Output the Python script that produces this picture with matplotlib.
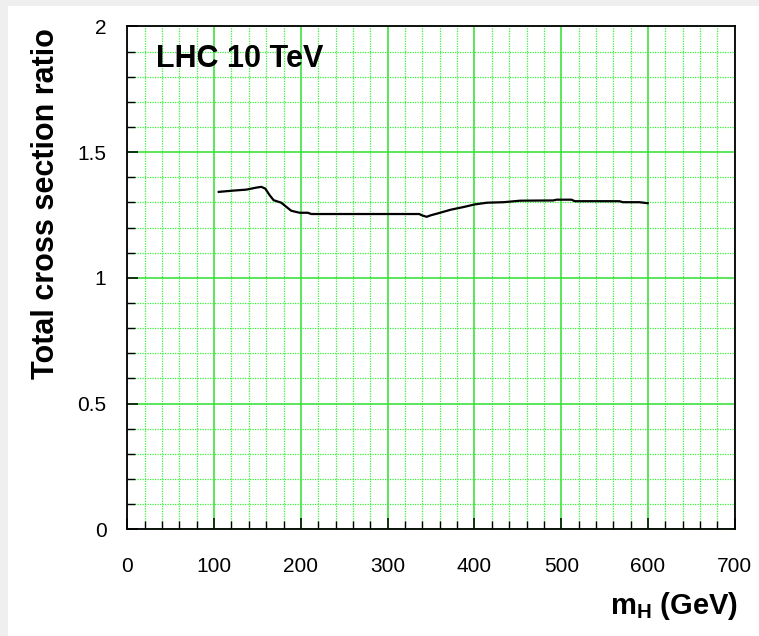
import matplotlib
matplotlib.use("Agg")
import matplotlib.pyplot as plt
from matplotlib.patches import Rectangle
from matplotlib.ticker import MultipleLocator

plt.rcParams['font.family'] = ['Liberation Sans', 'DejaVu Sans']
plt.rcParams['mathtext.fontset'] = 'custom'
plt.rcParams['mathtext.rm'] = 'Liberation Sans'
plt.rcParams['mathtext.bf'] = 'Liberation Sans:bold'

# Data
m_h = [105.4, 121.8, 137.2, 148.7, 154.4, 159.0, 164.0, 168.6, 177.4, 182.0,
       188.9, 198.5, 208.0, 212.0, 259.8, 315.0, 336.4, 340.0, 345.0, 349.8,
       359.4, 372.5, 387.8, 400.0, 414.5, 433.6, 452.7, 490.8, 494.7, 511.8,
       515.6, 567.0, 571.0, 590.0, 599.6]
ratio = [1.342, 1.347, 1.351, 1.359, 1.362, 1.355, 1.329, 1.309, 1.299, 1.286,
         1.267, 1.259, 1.259, 1.254, 1.254, 1.254, 1.254, 1.248, 1.243, 1.249,
         1.258, 1.271, 1.282, 1.292, 1.299, 1.301, 1.307, 1.308, 1.311, 1.311,
         1.305, 1.305, 1.301, 1.301, 1.297]

x_ticks = [0, 100, 200, 300, 400, 500, 600, 700]
x_tick_labels = ['0', '100', '200', '300', '400', '500', '600', '700']
y_ticks = [0, 0.5, 1, 1.5, 2]
y_tick_labels = ['0', '0.5', '1', '1.5', '2']

W, H = 759, 636
fig = plt.figure(figsize=(W / 100, H / 100), dpi=100, facecolor='#efefef')
fig.patches.append(Rectangle((8 / W, 0), 1 - 8 / W, 1 - 6 / H,
                             transform=fig.transFigure, facecolor='white',
                             edgecolor='none', zorder=-10))

ax = fig.add_axes([127.3 / W, 1 - 529.4 / H, (734.8 - 127.3) / W, (529.4 - 26.4) / H])
ax.set_facecolor('white')
ax.set_xlim(0, 700)
ax.set_ylim(0, 2)

ax.set_xticks(x_ticks)
ax.set_xticklabels(x_tick_labels)
ax.set_yticks(y_ticks)
ax.set_yticklabels(y_tick_labels)
ax.xaxis.set_minor_locator(MultipleLocator(20))
ax.yaxis.set_minor_locator(MultipleLocator(0.1))

ax.grid(which='major', color='#2ee02e', linewidth=1.1, linestyle='-', zorder=1)
ax.grid(which='minor', color='#3cf03c', linewidth=0.9, linestyle=(0, (1, 1)), zorder=1)
ax.set_axisbelow(True)

ax.tick_params(which='both', direction='in', top=False, right=False, color='black')
ax.tick_params(which='major', length=8, width=1.1, labelsize=15)
ax.tick_params(axis='x', which='major', pad=20)
ax.tick_params(axis='y', which='major', pad=15)
ax.tick_params(which='minor', length=6, width=1.0)
for s in ax.spines.values():
    s.set_linewidth(1.3)
    s.set_color('black')

ax.plot(m_h, ratio, color='black', linewidth=1.6, zorder=3)

ax.text(0.048, 0.935, 'LHC 10 TeV', transform=ax.transAxes, fontsize=22,
        fontweight='bold', ha='left', va='center')

fig.text(738 / W, 1 - 606 / H, r'$\mathbf{m_H}$ (GeV)', fontsize=21, fontweight='bold',
         ha='right', va='center')
fig.text(46 / W, 1 - 28 / H, 'Total cross section ratio', fontsize=22, fontweight='bold',
         rotation=90, ha='center', va='top')

fig.savefig('out.png', dpi=100, facecolor=fig.get_facecolor())
